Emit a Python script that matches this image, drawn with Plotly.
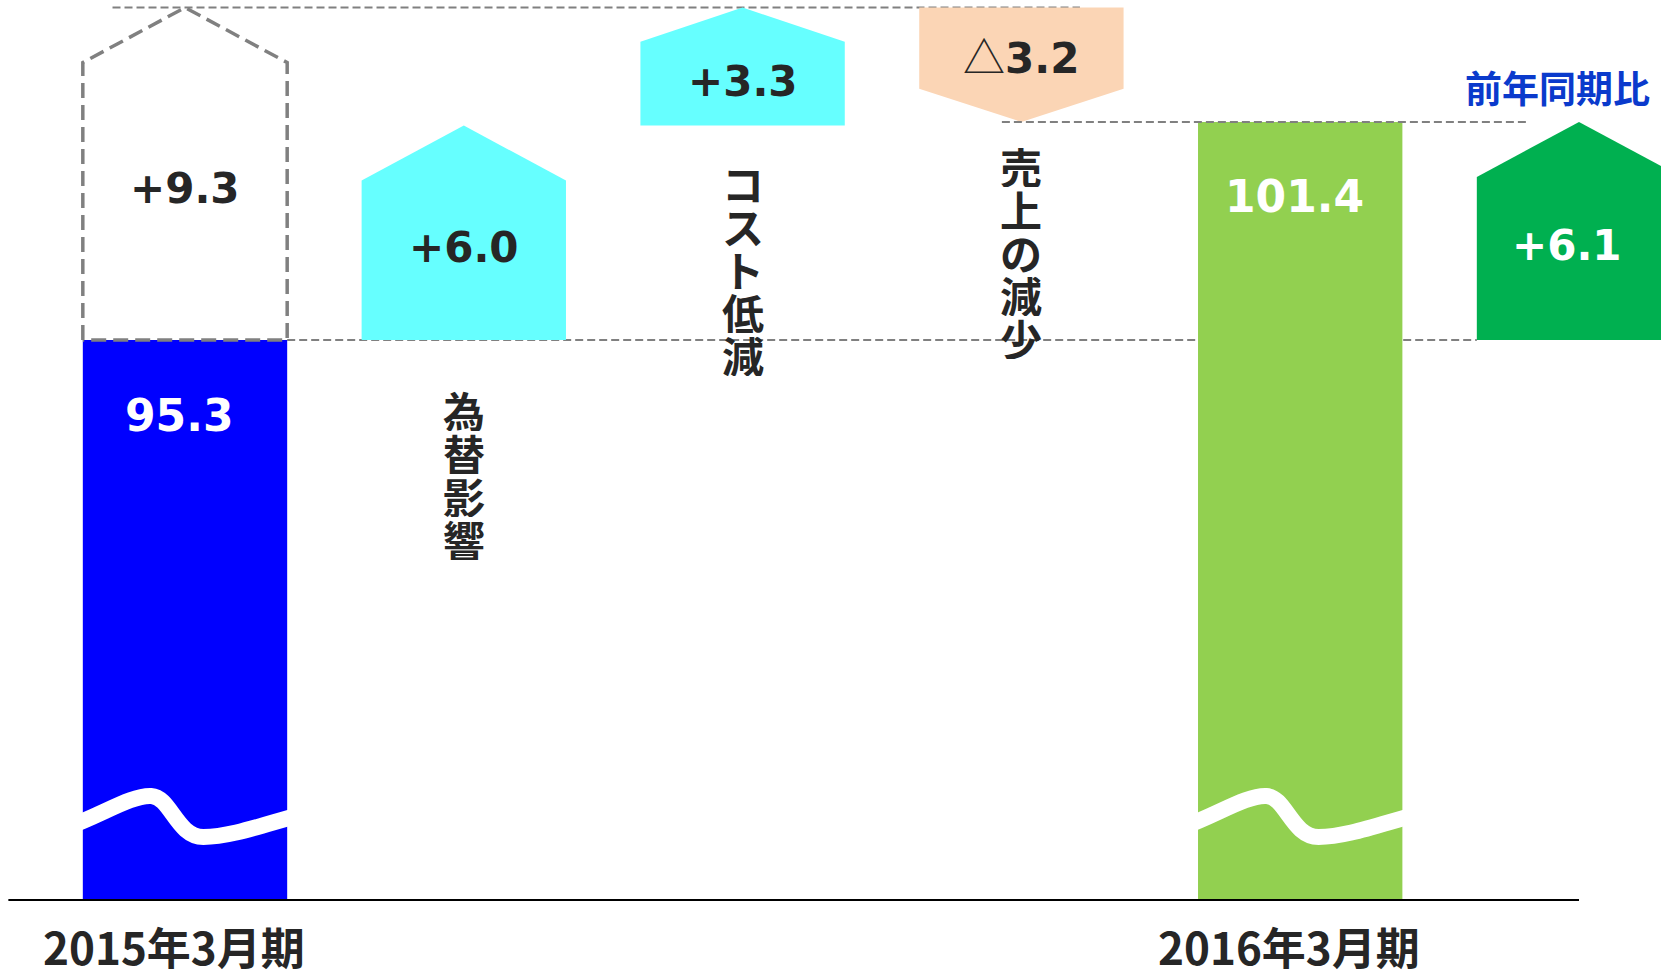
import plotly.graph_objects as go

# ---------------- data ----------------
PERIODS = ["2015年3月期", "2016年3月期"]
PERIOD_VALUES = [95.3, 101.4]
FACTORS = ["為替影響", "コスト低減", "売上の減少"]
FACTOR_DELTAS = [6.0, 3.3, -3.2]
YOY_TITLE = "前年同期比"
YOY_DELTA = 6.1

# ---------------- layout / style constants ----------------
FIG_W, FIG_H = 1661, 970
PX_PER_UNIT = 35.75         # vertical scale (px per data unit)
FLOOR = 79.636              # value at the broken-axis baseline
FLOOR_PX = 900              # baseline distance from figure top (px)
Y_TOP = FLOOR + FLOOR_PX / PX_PER_UNIT
Y_BOTTOM = FLOOR - (FIG_H - FLOOR_PX) / PX_PER_UNIT
SLOT_PX = 278.8             # horizontal px per slot
X_LEFT = -185 / SLOT_PX
X_RIGHT = X_LEFT + FIG_W / SLOT_PX
HALF_W = 0.3665             # half width of a box in slot units

BLUE = "#0000FF"
LIGHT_GREEN = "#92D050"
CYAN = "#66FFFF"
PEACH = "#FBD5B5"
DARK_GREEN = "#00B050"
GRAY = "#808080"
TEXT = "#262626"
TITLE_BLUE = "#0A3ACC"
NUM_FONT = "DejaVu Sans"
JP_FONT = "Noto Sans CJK JP"

LABEL_GAP_PX = [69, 57, 44]  # vertical factor labels: gap below box
CHAR_STEP_PX = 43


def py(px):
    return px / PX_PER_UNIT


def fmt_delta(v):
    if v < 0:
        return ("<span style=\"font-family:'Noto Sans CJK JP';font-weight:normal\">△</span>"
                f"{abs(v):.1f}")
    return f"+{v:.1f}"


def head_px(base, end):
    return min(55.0, 0.29 * abs(end - base) * PX_PER_UNIT)


def pentagon(c, base, end):
    L, R = c - HALF_W, c + HALF_W
    sgn = 1 if end > base else -1
    shoulder = end - sgn * py(head_px(base, end))
    xs = [L, L, c, R, R, L]
    ys = [base, shoulder, end, shoulder, base, base]
    return xs, ys


fig = go.Figure()

# slots
start_slot = 0
factor_slots = [1, 2, 3]
end_slot = 4
yoy_slot = 5
period_slots = [start_slot, end_slot]

start_val = PERIOD_VALUES[0]
end_val = PERIOD_VALUES[1]

# running totals of the waterfall
levels = [start_val]
for d in FACTOR_DELTAS:
    levels.append(round(levels[-1] + d, 2))
gross_gain = sum(d for d in FACTOR_DELTAS if d > 0)
peak_level = start_val + gross_gain

shapes = []

# dashed guide lines (below the bars)
shapes.append(dict(type="line", xref="x", yref="y", layer="below",
                   x0=start_slot - 0.26, x1=factor_slots[-1] + 0.21,
                   y0=peak_level, y1=peak_level,
                   line=dict(color=GRAY, width=2, dash="8px,4px")))
shapes.append(dict(type="line", xref="x", yref="y", layer="below",
                   x0=start_slot + HALF_W, x1=yoy_slot - HALF_W,
                   y0=start_val, y1=start_val,
                   line=dict(color=GRAY, width=2, dash="8px,4px")))

# period bars (broken at the bottom)
fig.add_trace(go.Bar(
    x=period_slots,
    y=[v - FLOOR for v in PERIOD_VALUES],
    base=FLOOR,
    width=2 * HALF_W,
    marker=dict(color=[BLUE, LIGHT_GREEN], line=dict(width=0)),
    hoverinfo="skip",
))

# ghost box of gross gains (+9.3)
gx, gy = pentagon(start_slot, start_val, peak_level)
fig.add_trace(go.Scatter(x=gx, y=gy, mode="lines",
                         line=dict(color=GRAY, width=3.5, dash="15px,7px"),
                         hoverinfo="skip"))

# factor boxes
for i, d in enumerate(FACTOR_DELTAS):
    b, e = levels[i], levels[i + 1]
    xs, ys = pentagon(factor_slots[i], b, e)
    fig.add_trace(go.Scatter(x=xs, y=ys, mode="lines", fill="toself",
                             fillcolor=CYAN if d > 0 else PEACH,
                             line=dict(width=0, color="rgba(0,0,0,0)"),
                             hoverinfo="skip"))

# year-on-year box
xs, ys = pentagon(yoy_slot, start_val, start_val + YOY_DELTA)
fig.add_trace(go.Scatter(x=xs, y=ys, mode="lines", fill="toself",
                         fillcolor=DARK_GREEN,
                         line=dict(width=0, color="rgba(0,0,0,0)"),
                         hoverinfo="skip"))

# dashed line at the final level (above green bar)
shapes.append(dict(type="line", xref="x", yref="y", layer="above",
                   x0=factor_slots[-1] - 0.07, x1=yoy_slot - 0.19,
                   y0=end_val, y1=end_val,
                   line=dict(color=GRAY, width=2, dash="8px,4px")))

# wavy break marks on the period bars
WAVE = [(-0.06, 74), (0.10, 86), (0.24, 105), (0.335, 104),
        (0.43, 103), (0.46, 63), (0.59, 63),
        (0.72, 63), (0.88, 75), (1.06, 85)]
for s in period_slots:
    L = s - HALF_W
    pts = [(L + f * 2 * HALF_W, FLOOR + py(h)) for f, h in WAVE]
    path = f"M {pts[0][0]},{pts[0][1]}"
    for k in range(1, len(pts), 3):
        path += " C " + " ".join(f"{x},{y}" for x, y in pts[k:k + 3])
    shapes.append(dict(type="path", xref="x", yref="y", layer="above",
                       path=path, line=dict(color="white", width=16)))

# baseline
shapes.append(dict(type="line", xref="x", yref="y", layer="above",
                   x0=X_LEFT + 0.03, x1=yoy_slot, y0=FLOOR, y1=FLOOR,
                   line=dict(color="black", width=2)))

annotations = []


def num_label(x, y, text, color, size=42, yshift=0, xshift=0):
    annotations.append(dict(x=x, y=y, xref="x", yref="y", text=text,
                            showarrow=False, xshift=xshift, yshift=yshift,
                            font=dict(family=NUM_FONT, size=size, color=color,
                                      weight="bold")))


# period values
for s, v in zip(period_slots, PERIOD_VALUES):
    num_label(s, v, f"{v:.1f}", "white", size=44, yshift=-75, xshift=-6)

# gross gain label
num_label(start_slot, (start_val + peak_level) / 2, f"+{gross_gain:.1f}", TEXT,
          yshift=-15)

# factor labels
for i, d in enumerate(FACTOR_DELTAS):
    b, e = levels[i], levels[i + 1]
    num_label(factor_slots[i], (b + e) / 2, fmt_delta(d), TEXT,
              yshift=-15 if d > 0 else 10)
    lower = min(b, e)
    for k, ch in enumerate(FACTORS[i]):
        annotations.append(dict(
            x=factor_slots[i], y=lower, xref="x", yref="y", text=ch,
            showarrow=False, yanchor="middle", height=CHAR_STEP_PX,
            yshift=-(LABEL_GAP_PX[i] + k * CHAR_STEP_PX),
            font=dict(family=JP_FONT, size=42, color=TEXT, weight="bold")))

# year-on-year label
num_label(yoy_slot, start_val + YOY_DELTA / 2, f"+{YOY_DELTA:.1f}", "white",
          yshift=-15, xshift=-12)
annotations.append(dict(x=yoy_slot, y=start_val + YOY_DELTA, xref="x", yref="y",
                        text=YOY_TITLE, showarrow=False, yshift=35, xshift=-22,
                        font=dict(family=JP_FONT, size=37, color=TITLE_BLUE,
                                  weight="bold")))

# period category labels
for s, name in zip(period_slots, PERIODS):
    annotations.append(dict(x=s, y=FLOOR, xref="x", yref="y", text=name,
                            showarrow=False, yanchor="middle", yshift=-46,
                            xshift=-11, height=48,
                            font=dict(family=JP_FONT, size=44, color=TEXT,
                                      weight="bold")))

fig.update_layout(
    width=FIG_W, height=FIG_H,
    margin=dict(l=0, r=0, t=0, b=0, pad=0),
    paper_bgcolor="white", plot_bgcolor="white",
    showlegend=False, hovermode=False,
    xaxis=dict(visible=False, range=[X_LEFT, X_RIGHT], fixedrange=True),
    yaxis=dict(visible=False, range=[Y_BOTTOM, Y_TOP], fixedrange=True),
    shapes=shapes, annotations=annotations,
)

fig.write_html("out.html", config={"displayModeBar": False},
               post_script="document.body.style.margin='0';")
